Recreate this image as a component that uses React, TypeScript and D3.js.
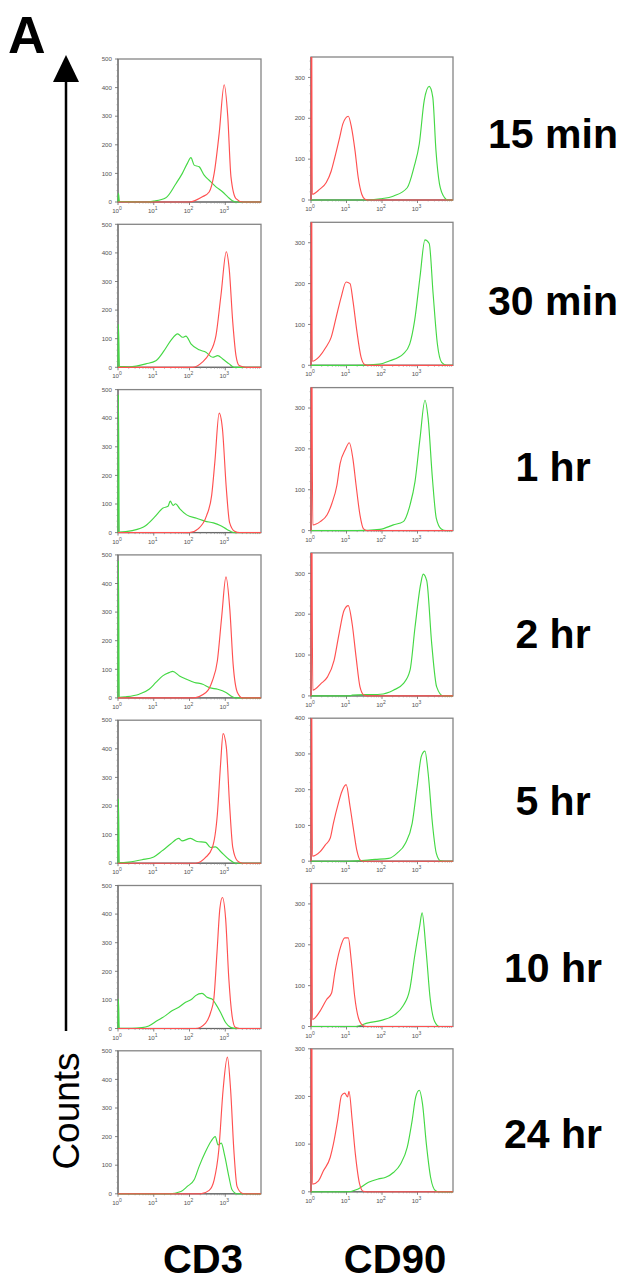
import React from "react";
import * as d3 from "d3";

const timepoints = ["15 min", "30 min", "1 hr", "2 hr", "5 hr", "10 hr", "24 hr"];
const markers = ["CD3", "CD90"];
const cd3Max = [500, 500, 500, 500, 500, 500, 500];
const cd90Max = [350, 350, 350, 350, 400, 350, 300];
const decadeExps = [0, 1, 2, 3];

// [log10 intensity, count]
const cd3Green = [
  [[0,0],[0.012,30],[0.04,2],[0.78,0],[1.0,3],[1.34,15],[1.62,64],[1.8,100],[1.94,135],[2.04,155],[2.13,129],[2.27,123],[2.41,94],[2.55,76],[2.74,53],[2.93,35],[3.07,18],[3.2,4],[3.3,0],[4,0]],
  [[0,0],[0.012,150],[0.04,3],[0.31,2],[0.78,12],[1.06,23],[1.29,58],[1.48,94],[1.67,117],[1.81,105],[1.9,109],[2.04,82],[2.27,61],[2.46,53],[2.65,35],[2.79,41],[2.93,29],[3.11,12],[3.25,0],[4,0]],
  [[0,0],[0.012,482],[0.035,2],[0.4,7],[0.78,25],[1.02,54],[1.26,86],[1.4,92],[1.46,110],[1.54,95],[1.61,101],[1.73,83],[1.92,62],[2.2,50],[2.43,40],[2.67,34],[2.86,25],[3.05,11],[3.24,0],[4,0]],
  [[0,0],[0.012,480],[0.035,2],[0.22,4],[0.59,13],[0.87,30],[1.06,54],[1.25,77],[1.44,89],[1.53,93],[1.72,77],[1.9,66],[2.14,54],[2.37,48],[2.56,36],[2.79,30],[3.02,19],[3.2,4],[3.3,0],[4,0]],
  [[0,0],[0.012,225],[0.035,2],[0.3,4],[0.67,12],[1.0,22],[1.23,43],[1.47,67],[1.7,87],[1.79,78],[2.03,87],[2.21,76],[2.45,73],[2.59,55],[2.73,57],[2.87,41],[3.1,14],[3.29,0],[4,0]],
  [[0,0],[0.012,103],[0.035,1],[0.39,1],[0.67,3],[0.86,9],[1.09,27],[1.33,45],[1.51,62],[1.7,74],[1.89,92],[2.07,103],[2.17,115],[2.35,123],[2.49,109],[2.63,103],[2.73,86],[2.87,56],[3.01,21],[3.15,4],[3.3,0],[4,0]],
  [[0,0],[1.43,0],[1.76,8],[1.94,26],[2.13,49],[2.27,96],[2.45,148],[2.6,183],[2.72,200],[2.8,171],[2.89,177],[2.98,136],[3.1,61],[3.19,14],[3.33,0],[4,0]],
];
const cd3Red = [
  [[0,0],[2.0,0],[2.36,18],[2.55,35],[2.69,100],[2.83,240],[2.97,410],[3.07,300],[3.16,88],[3.3,12],[3.49,0],[4,0]],
  [[0,0],[2.09,0],[2.36,18],[2.55,47],[2.74,111],[2.88,252],[3.03,404],[3.11,345],[3.21,158],[3.3,41],[3.39,6],[3.58,0],[4,0]],
  [[0,0],[2.0,0],[2.24,13],[2.48,60],[2.62,130],[2.71,248],[2.83,418],[2.92,365],[3.03,154],[3.12,36],[3.26,5],[3.4,0],[4,0]],
  [[0,0],[2.08,0],[2.46,19],[2.64,60],[2.78,130],[2.9,283],[3.02,423],[3.13,306],[3.22,118],[3.34,19],[3.48,0],[4,0]],
  [[0,0],[2.17,0],[2.45,20],[2.64,55],[2.78,172],[2.87,348],[2.94,453],[3.03,406],[3.12,207],[3.21,55],[3.34,8],[3.48,0],[4,0]],
  [[0,0],[2.17,0],[2.45,19],[2.59,56],[2.68,103],[2.77,268],[2.85,420],[2.92,458],[3.01,385],[3.1,174],[3.19,45],[3.28,4],[3.4,0],[4,0]],
  [[0,0],[2.31,0],[2.55,12],[2.69,49],[2.82,154],[2.94,364],[3.06,478],[3.15,364],[3.24,154],[3.33,26],[3.47,2],[3.56,0],[4,0]],
];
const cd90Red = [
  [[0,0],[0.012,600],[0.035,14],[0.24,26],[0.43,43],[0.57,71],[0.67,104],[0.81,154],[0.9,187],[1.05,205],[1.14,178],[1.24,121],[1.33,55],[1.43,14],[1.52,2],[1.62,0],[4,0]],
  [[0,0],[0.012,600],[0.035,10],[0.24,22],[0.42,44],[0.57,69],[0.71,118],[0.85,167],[0.99,204],[1.1,200],[1.18,159],[1.29,85],[1.41,20],[1.51,2],[1.6,0],[4,0]],
  [[0,0],[0.012,600],[0.05,14],[0.26,22],[0.45,38],[0.59,67],[0.73,111],[0.82,164],[0.96,197],[1.08,215],[1.18,176],[1.27,111],[1.38,38],[1.48,4],[1.57,0],[4,0]],
  [[0,0],[0.012,600],[0.05,14],[0.28,30],[0.46,46],[0.65,87],[0.79,152],[0.93,209],[1.05,221],[1.16,176],[1.27,95],[1.38,22],[1.49,2],[1.58,0],[4,0]],
  [[0,0],[0.012,600],[0.04,14],[0.25,26],[0.4,45],[0.54,64],[0.63,106],[0.77,162],[0.87,195],[0.99,214],[1.1,153],[1.2,87],[1.29,31],[1.39,3],[1.48,0],[4,0]],
  [[0,0],[0.012,600],[0.04,17],[0.25,37],[0.44,66],[0.58,82],[0.67,131],[0.81,188],[0.95,217],[1.05,217],[1.14,156],[1.23,74],[1.35,17],[1.47,2],[1.56,0],[4,0]],
  [[0,0],[0.012,600],[0.04,16],[0.21,23],[0.35,44],[0.54,72],[0.63,100],[0.75,150],[0.86,202],[0.95,207],[1.03,199],[1.07,211],[1.16,150],[1.25,79],[1.37,16],[1.47,1],[1.56,0],[4,0]],
];
const cd90Green = [
  [[0,0],[1.48,0],[1.95,3],[2.33,10],[2.71,30],[2.9,80],[3.05,137],[3.19,244],[3.33,278],[3.43,252],[3.52,121],[3.62,39],[3.76,6],[3.86,0],[4,0]],
  [[0,0],[1.27,0],[1.93,3],[2.22,11],[2.6,28],[2.78,52],[2.92,110],[3.07,216],[3.21,307],[3.33,298],[3.44,175],[3.56,52],[3.68,7],[3.82,0],[4,0]],
  [[0,0],[1.29,0],[1.94,3],[2.32,14],[2.6,22],[2.79,63],[2.93,120],[3.07,225],[3.21,319],[3.3,274],[3.42,128],[3.53,30],[3.67,4],[3.8,0],[4,0]],
  [[0,0],[1.1,0],[1.16,2],[1.95,4],[2.32,14],[2.6,30],[2.79,63],[2.93,168],[3.09,274],[3.16,298],[3.26,282],[3.4,128],[3.54,22],[3.72,0],[4,0]],
  [[0,0],[1.06,0],[1.81,5],[2.19,8],[2.42,22],[2.66,50],[2.85,106],[2.99,209],[3.11,294],[3.21,308],[3.3,246],[3.42,106],[3.53,22],[3.65,1],[3.75,0],[4,0]],
  [[0,0],[1.23,0],[1.61,9],[1.98,15],[2.36,29],[2.59,50],[2.78,90],[2.92,172],[3.06,245],[3.13,278],[3.24,188],[3.36,66],[3.48,13],[3.62,0],[4,0]],
  [[0,0],[1.0,0],[1.33,6],[1.62,20],[1.9,27],[2.09,30],[2.33,41],[2.52,58],[2.71,93],[2.85,150],[2.95,199],[3.05,213],[3.14,185],[3.25,100],[3.37,30],[3.51,2],[3.6,0],[4,0]],
];

const FONT = "'Liberation Sans', Arial, Helvetica, sans-serif";
const RED = "#ff5050";
const GREEN = "#44d844";

function Panel({ id, x0, y0, w, h, ymax, red, green }) {
  const x = d3.scaleLog().domain([1, 1e4]).range([x0, x0 + w]);
  const y = d3.scaleLinear().domain([0, ymax]).range([y0 + h, y0]);
  const line = d3
    .line()
    .x((d) => x(Math.pow(10, d[0])))
    .y((d) => y(d[1]))
    .curve(d3.curveMonotoneX);
  const majors = d3.range(0, ymax + 1, 100);
  const minors = d3.range(0, ymax + 1, 20).filter((v) => v % 100 !== 0);
  const xMinor = [];
  decadeExps.forEach((e) => {
    for (let k = 2; k <= 9; k++) xMinor.push(k * Math.pow(10, e));
  });
  const bottom = y0 + h;
  return (
    <g>
      <defs>
        <clipPath id={id}>
          <rect x={x0 - 1} y={y0} width={w + 1} height={h + 1} />
        </clipPath>
      </defs>
      <rect x={x0} y={y0} width={w} height={h} fill="#fff" stroke="#858585" strokeWidth={1.3} />
      {/* y axis */}
      <line x1={x0} x2={x0} y1={y0} y2={bottom} stroke="#666" strokeWidth={1} />
      {majors.map((v) => (
        <g key={"ym" + v}>
          <line x1={x0 - 3} x2={x0} y1={y(v)} y2={y(v)} stroke="#666" strokeWidth={0.8} />
          <text x={x0 - 6} y={y(v) + 2.2} fontSize={6.2} fill="#555" textAnchor="end" fontFamily={FONT}>
            {v}
          </text>
        </g>
      ))}
      {minors.map((v) => (
        <line key={"yn" + v} x1={x0 - 1.5} x2={x0} y1={y(v)} y2={y(v)} stroke="#888" strokeWidth={0.6} />
      ))}
      {/* x axis */}
      <line x1={x0} x2={x0 + w} y1={bottom} y2={bottom} stroke="#666" strokeWidth={1} />
      {xMinor.map((v) => (
        <line key={"xn" + v} x1={x(v)} x2={x(v)} y1={bottom} y2={bottom + 1.5} stroke="#888" strokeWidth={0.6} />
      ))}
      {decadeExps.map((e) => (
        <g key={"xm" + e}>
          <line x1={x(Math.pow(10, e))} x2={x(Math.pow(10, e))} y1={bottom} y2={bottom + 3} stroke="#666" strokeWidth={0.8} />
          <text x={x(Math.pow(10, e)) - 1} y={bottom + 11} fontSize={6.2} fill="#555" textAnchor="middle" fontFamily={FONT}>
            10
            <tspan dy={-3} fontSize={5}>{e}</tspan>
          </text>
        </g>
      ))}
      <g clipPath={`url(#${id})`} fill="none" strokeWidth={1.15} strokeLinejoin="round">
        <path d={line(green)} stroke={GREEN} />
        <path d={line(red)} stroke={RED} />
      </g>
    </g>
  );
}

export default function App() {
  const W = 624;
  const H = 1282;
  const leftX = 118;
  const rightX = 311;
  const pw = 143;
  const ph = 143;
  const row0 = 59;
  const rowStep = 165.3;
  return (
    <svg width={W} height={H} style={{ position: "absolute", left: 0, top: 0, background: "#fff" }}>
      <rect width={W} height={H} fill="#fff" />
      <text x={8} y={53} fontSize={52} fontWeight="bold" fontFamily={FONT}>A</text>
      {/* Counts arrow */}
      <line x1={66} x2={66} y1={1031} y2={78} stroke="#000" strokeWidth={2.5} />
      <path d="M66,55 L79,82 L53,82 Z" fill="#000" />
      <text
        transform="translate(79,1111) rotate(-90)"
        fontSize={37}
        textAnchor="middle"
        fontFamily={FONT}
      >
        Counts
      </text>
      {timepoints.map((t, i) => {
        const top = row0 + i * rowStep;
        return (
          <g key={t}>
            <Panel id={`c3-${i}`} x0={leftX} y0={top} w={pw} h={ph} ymax={cd3Max[i]} red={cd3Red[i]} green={cd3Green[i]} />
            <Panel id={`c90-${i}`} x0={rightX} y0={top - 2} w={pw - 1} h={ph} ymax={cd90Max[i]} red={cd90Red[i]} green={cd90Green[i]} />
            <text x={553} y={148 + i * 166.7} fontSize={41} fontWeight="bold" textAnchor="middle" fontFamily={FONT}>
              {t}
            </text>
          </g>
        );
      })}
      <text x={203} y={1273} fontSize={40} fontWeight="bold" textAnchor="middle" fontFamily={FONT}>{markers[0]}</text>
      <text x={395} y={1273} fontSize={40} fontWeight="bold" textAnchor="middle" fontFamily={FONT}>{markers[1]}</text>
    </svg>
  );
}
